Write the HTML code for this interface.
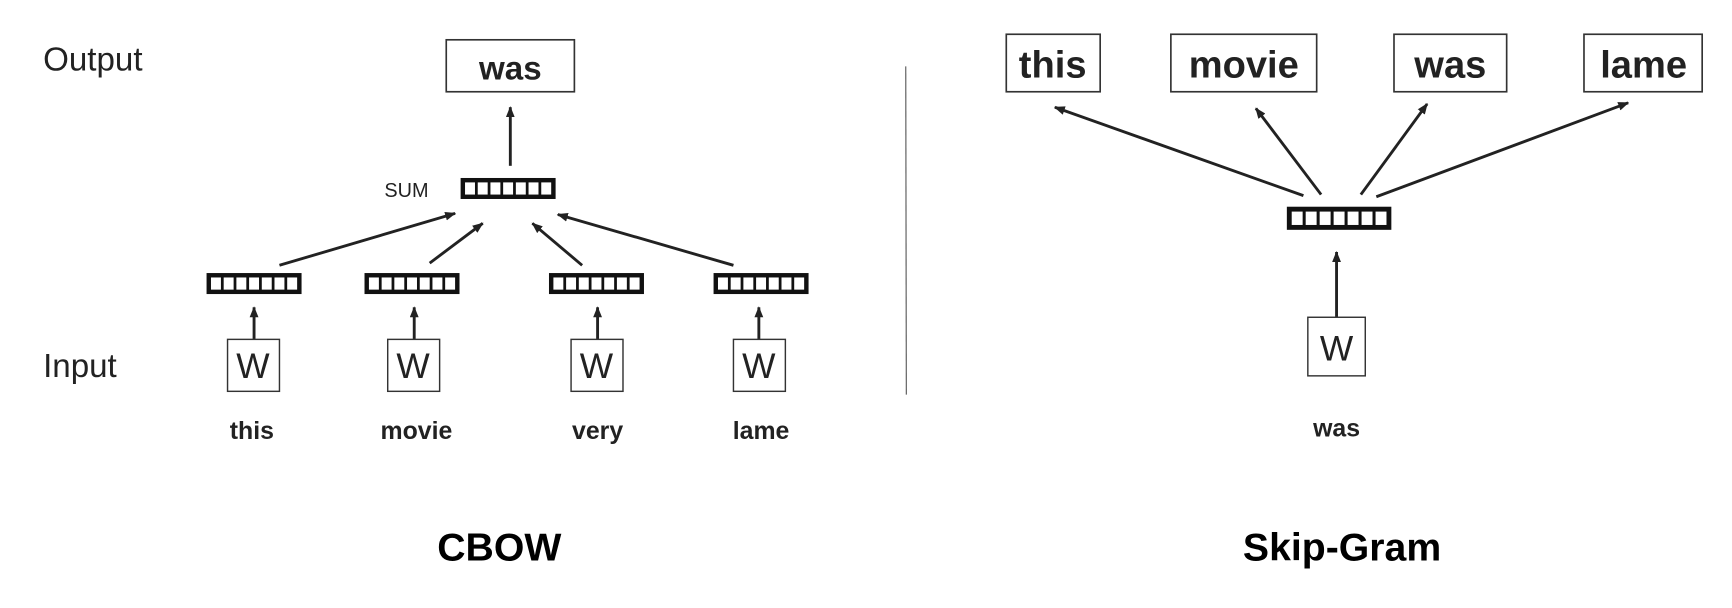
<!DOCTYPE html>
<html><head><meta charset="utf-8"><style>
html,body{margin:0;padding:0;background:#fff;}
svg{display:block;}
text{font-family:"Liberation Sans",Arial,sans-serif;fill:#222;}
</style></head><body>
<svg width="1732" height="608" viewBox="0 0 1568 550" preserveAspectRatio="none" xmlns="http://www.w3.org/2000/svg">
<defs>
<marker id="a" markerWidth="10" markerHeight="8" refX="9" refY="4" orient="auto" markerUnits="userSpaceOnUse">
<path d="M0,0 L10,4 L0,8 z" fill="#222"/></marker>
<g id="vec">
<rect x="0" y="0" width="86" height="19" fill="#111"/>
<rect x="4" y="4" width="9" height="11" fill="#fff"/>
<rect x="15.5" y="4" width="9" height="11" fill="#fff"/>
<rect x="27" y="4" width="9" height="11" fill="#fff"/>
<rect x="38.5" y="4" width="9" height="11" fill="#fff"/>
<rect x="50" y="4" width="9" height="11" fill="#fff"/>
<rect x="61.5" y="4" width="9" height="11" fill="#fff"/>
<rect x="73" y="4" width="9" height="11" fill="#fff"/>
</g>
</defs>
<g stroke="#222" stroke-width="2.6" fill="none" marker-end="url(#a)">
<line x1="462" y1="150" x2="462" y2="97"/>
<line x1="253" y1="240" x2="412" y2="193"/>
<line x1="389" y1="238" x2="437" y2="202"/>
<line x1="527" y1="240" x2="482" y2="202"/>
<line x1="664" y1="240" x2="505" y2="194"/>
<line x1="230" y1="307" x2="230" y2="278"/>
<line x1="375" y1="307" x2="375" y2="278"/>
<line x1="541" y1="307" x2="541" y2="278"/>
<line x1="687" y1="307" x2="687" y2="278"/>
<line x1="1180" y1="177" x2="955" y2="97"/>
<line x1="1196" y1="176" x2="1137" y2="98"/>
<line x1="1232" y1="176" x2="1292" y2="94"/>
<line x1="1246" y1="178" x2="1474" y2="93"/>
<line x1="1210" y1="287" x2="1210" y2="228"/>
</g>
<text x="39" y="64" font-size="30">Output</text>
<text x="39" y="341" font-size="30">Input</text>
<rect x="404" y="36" width="116" height="47" fill="#fff" stroke="#333" stroke-width="1.5"/>
<text x="462" y="72" font-size="30" font-weight="bold" text-anchor="middle">was</text>
<text x="348" y="178" font-size="18">SUM</text>
<use href="#vec" x="417" y="161"/>
<use href="#vec" x="187" y="247"/>
<use href="#vec" x="330" y="247"/>
<use href="#vec" x="497" y="247"/>
<use href="#vec" x="646" y="247"/>
<g fill="#fff" stroke="#333" stroke-width="1.3">
<rect x="206" y="307" width="47" height="47"/>
<rect x="351" y="307" width="47" height="47"/>
<rect x="517" y="307" width="47" height="47"/>
<rect x="664" y="307" width="47" height="47"/>
<rect x="1184" y="287" width="52" height="53"/>
</g>
<g font-size="32" text-anchor="middle">
<text x="229" y="342">W</text><text x="374" y="342">W</text>
<text x="540" y="342">W</text><text x="687" y="342">W</text>
<text x="1210" y="326">W</text>
</g>
<g font-size="22.5" font-weight="bold" text-anchor="middle">
<text x="228" y="397">this</text><text x="377" y="397">movie</text>
<text x="541" y="397">very</text><text x="689" y="397">lame</text>
<text x="1210" y="395">was</text>
</g>
<text x="452" y="507" font-size="35.5" font-weight="bold" text-anchor="middle" style="fill:#000">CBOW</text>
<text x="1215" y="507" font-size="35.5" font-weight="bold" text-anchor="middle" style="fill:#000">Skip-Gram</text>
<line x1="820" y1="60" x2="820.5" y2="357" stroke="#555" stroke-width="1"/>
<g fill="#fff" stroke="#333" stroke-width="1.5">
<rect x="911" y="31" width="85" height="52"/>
<rect x="1060" y="31" width="132" height="52"/>
<rect x="1262" y="31" width="102" height="52"/>
<rect x="1434" y="31" width="107" height="52"/>
</g>
<g font-size="34.5" font-weight="bold" text-anchor="middle">
<text x="953" y="70">this</text><text x="1126" y="70">movie</text>
<text x="1313" y="70">was</text><text x="1488" y="70">lame</text>
</g>
<use href="#vec" transform="translate(1165,187) scale(1.1,1.1)"/>
</svg>
</body></html>
